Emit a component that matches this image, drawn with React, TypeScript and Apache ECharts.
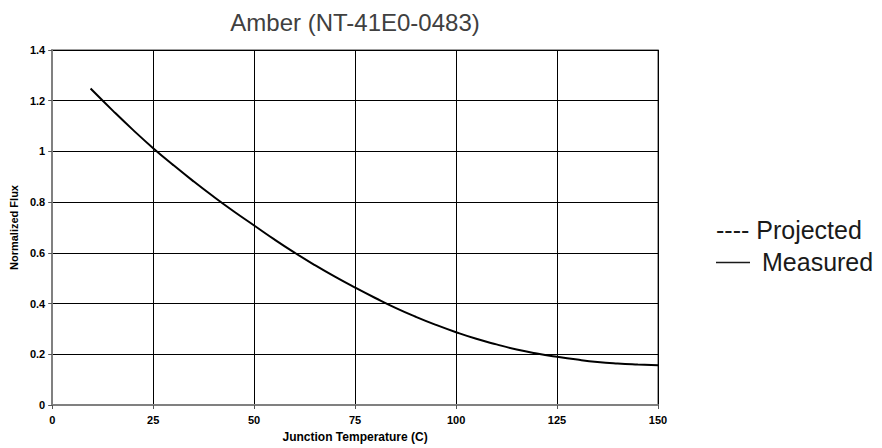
import React, { useEffect, useRef } from "react";
import * as echarts from "echarts";

const temperatures = [9.5, 15, 20, 25, 30, 35, 40, 45, 50, 55, 60, 65, 70, 75, 80, 85, 90, 95, 100, 105, 110, 115, 120, 125, 130, 135, 140, 145, 150];
const measuredFlux = [1.248, 1.161, 1.085, 1.013, 0.946, 0.882, 0.821, 0.763, 0.708, 0.653, 0.601, 0.552, 0.506, 0.463, 0.422, 0.383, 0.348, 0.316, 0.287, 0.261, 0.239, 0.219, 0.203, 0.19, 0.179, 0.17, 0.164, 0.16, 0.157];

const chartTitle = "Amber (NT-41E0-0483)";
const xAxisName = "Junction Temperature (C)";
const yAxisName = "Normalized Flux";
const legendProjected = "---- Projected";
const legendMeasured = "Measured";

const FONT = "'Liberation Sans', Arial, Helvetica, sans-serif";

export default function App() {
  const ref = useRef<HTMLDivElement>(null);
  useEffect(() => {
    if (!ref.current) return;
    const chart = echarts.init(ref.current, undefined, { renderer: "svg" });
    const data = temperatures.map((t, i) => [t, measuredFlux[i]]);
    chart.setOption({
      animation: false,
      backgroundColor: "#ffffff",
      grid: {
        left: 51,
        right: 224,
        top: 50,
        bottom: 43,
        show: true,
        borderColor: "#808080",
        borderWidth: 1.5,
        backgroundColor: "transparent",
      },
      xAxis: {
        type: "value",
        min: 0,
        max: 150,
        interval: 25,
        name: xAxisName,
        nameLocation: "middle",
        nameGap: 26,
        nameTextStyle: { fontFamily: FONT, fontWeight: "bold", fontSize: 12, color: "#000" },
        axisLine: { show: true, lineStyle: { color: "#808080", width: 2 } },
        axisTick: { show: true, length: 4, lineStyle: { color: "#555" } },
        axisLabel: { margin: 9, fontFamily: FONT, fontWeight: "bold", fontSize: 11, color: "#000" },
        splitLine: { show: true, lineStyle: { color: "#000", width: 1 } },
      },
      yAxis: {
        type: "value",
        min: 0,
        max: 1.4,
        interval: 0.2,
        name: yAxisName,
        nameLocation: "middle",
        nameGap: 30,
        nameTextStyle: { fontFamily: FONT, fontWeight: "bold", fontSize: 11, color: "#000" },
        axisLine: { show: true, lineStyle: { color: "#808080", width: 2 } },
        axisTick: { show: true, length: 4, lineStyle: { color: "#555" } },
        axisLabel: { margin: 7, fontFamily: FONT, fontWeight: "bold", fontSize: 11, color: "#000" },
        splitLine: { show: true, lineStyle: { color: "#000", width: 1 } },
      },
      series: [
        {
          name: legendMeasured,
          type: "line",
          data,
          smooth: true,
          showSymbol: false,
          lineStyle: { color: "#000", width: 2 },
        },
      ],
      graphic: [
        {
          type: "text",
          x: 355,
          y: 22,
          style: {
            text: chartTitle,
            fontFamily: FONT,
            fontSize: 24,
            fill: "#404040",
            align: "center",
            verticalAlign: "middle",
          },
        },
        {
          type: "text",
          x: 716,
          y: 230,
          style: {
            text: legendProjected,
            fontFamily: FONT,
            fontSize: 25,
            fill: "#1a1a1a",
            align: "left",
            verticalAlign: "middle",
          },
        },
        {
          type: "line",
          shape: { x1: 716, y1: 262.5, x2: 750, y2: 262.5 },
          style: { stroke: "#1a1a1a", lineWidth: 1.5 },
        },
        {
          type: "text",
          x: 762,
          y: 262,
          style: {
            text: legendMeasured,
            fontFamily: FONT,
            fontSize: 25,
            fill: "#1a1a1a",
            align: "left",
            verticalAlign: "middle",
          },
        },
      ],
    });
    return () => chart.dispose();
  }, []);
  return <div ref={ref} style={{ width: 882, height: 448, position: "absolute", left: 0, top: 0 }} />;
}
